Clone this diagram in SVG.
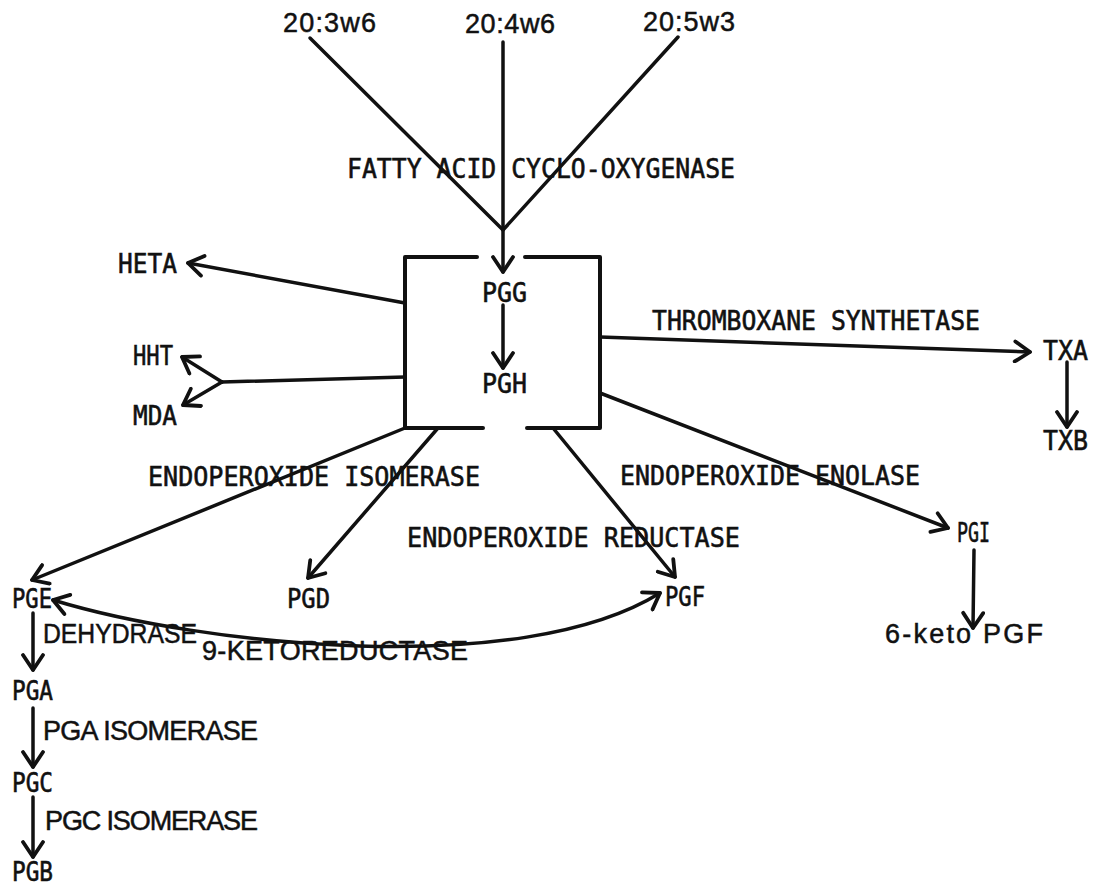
<svg xmlns="http://www.w3.org/2000/svg" width="1095" height="888" viewBox="0 0 1095 888">
<style>
.c{font-family:"DejaVu Sans Mono","Liberation Mono",monospace;font-size:27px;fill:#111;stroke:#111;stroke-width:0.6}
.h{font-family:"Liberation Sans",Arial,sans-serif;font-size:27px;fill:#111;stroke:#111;stroke-width:0.5}
.ln{fill:none;stroke:#111;stroke-width:3.5;stroke-linecap:round;stroke-linejoin:round}
.ar{marker-end:url(#arr)}
</style>
<defs>
<marker id="arr" viewBox="0 0 24 24" markerWidth="24" markerHeight="24" refX="20" refY="12" orient="auto-start-reverse" markerUnits="userSpaceOnUse">
<path d="M5,2 L20,12 L5,22" fill="none" stroke="#111" stroke-width="3.8" stroke-linecap="round" stroke-linejoin="round"/>
</marker>
</defs>
<rect width="1095" height="888" fill="#fff"/>

<g id="connectors">
<path class="ln" d="M310,38 L503,230"/>
<path class="ln" d="M678,37 L503,230"/>
<path class="ln ar" d="M503,42 L503,272"/>
<path class="ln ar" d="M503,305 L503,368"/>
<path class="ln ar" d="M405,303 L188,263"/>
<path class="ln" d="M405,377 L222,382"/>
<path class="ln ar" d="M222,382 L182,357"/>
<path class="ln ar" d="M222,382 L183,405"/>
<path class="ln ar" d="M600,337 L1030,352"/>
<path class="ln ar" d="M1067,362 L1067,427"/>
<path class="ln ar" d="M600,393 L948,528"/>
<path class="ln ar" d="M974,550 L973,628"/>
<path class="ln ar" d="M405,428 L32,580"/>
<path class="ln ar" d="M438,428 L308,578"/>
<path class="ln ar" d="M553,428 L675,577"/>
<path class="ln ar" style="marker-start:url(#arr)" d="M53,600 C200,645 520,680 660,593"/>
<path class="ln ar" d="M33,613 L33,670"/>
<path class="ln ar" d="M33,708 L33,767"/>
<path class="ln ar" d="M33,797 L33,857"/>
</g>

<g id="box">
<path class="ln" style="stroke-width:4" d="M477,257 H405 V428 H483 M527,428 H600 V257 H525"/>
</g>

<g id="n-203w6"><text class="h" x="283" y="32" textLength="93" lengthAdjust="spacing">20:3w6</text></g>
<g id="n-204w6"><text class="h" x="465" y="33" textLength="90" lengthAdjust="spacing">20:4w6</text></g>
<g id="n-205w3"><text class="h" x="643" y="31" textLength="92" lengthAdjust="spacing">20:5w3</text></g>
<g id="n-PGG"><text class="c" x="482" y="302" textLength="45" lengthAdjust="spacingAndGlyphs">PGG</text></g>
<g id="n-PGH"><text class="c" x="482" y="393" textLength="45" lengthAdjust="spacingAndGlyphs">PGH</text></g>
<g id="n-HETA"><text class="c" x="118" y="273" textLength="59" lengthAdjust="spacingAndGlyphs">HETA</text></g>
<g id="n-HHT"><text class="c" x="133" y="365" textLength="40" lengthAdjust="spacingAndGlyphs">HHT</text></g>
<g id="n-MDA"><text class="c" x="133" y="425" textLength="44" lengthAdjust="spacingAndGlyphs">MDA</text></g>
<g id="n-TXA"><text class="c" x="1043" y="360" textLength="45" lengthAdjust="spacingAndGlyphs">TXA</text></g>
<g id="n-TXB"><text class="c" x="1043" y="450" textLength="45" lengthAdjust="spacingAndGlyphs">TXB</text></g>
<g id="n-PGI"><text class="c" x="957" y="542" textLength="33" lengthAdjust="spacingAndGlyphs">PGI</text></g>
<g id="n-6ketoPGF"><text class="h" x="885" y="643" textLength="158" lengthAdjust="spacing">6-keto PGF</text></g>
<g id="n-PGE"><text class="c" x="12" y="608" textLength="40" lengthAdjust="spacingAndGlyphs">PGE</text></g>
<g id="n-PGD"><text class="c" x="287" y="608" textLength="43" lengthAdjust="spacingAndGlyphs">PGD</text></g>
<g id="n-PGF"><text class="c" x="665" y="606" textLength="40" lengthAdjust="spacingAndGlyphs">PGF</text></g>
<g id="n-PGA"><text class="c" x="12" y="700" textLength="41" lengthAdjust="spacingAndGlyphs">PGA</text></g>
<g id="n-PGC"><text class="c" x="12" y="792" textLength="41" lengthAdjust="spacingAndGlyphs">PGC</text></g>
<g id="n-PGB"><text class="c" x="12" y="881" textLength="41" lengthAdjust="spacingAndGlyphs">PGB</text></g>

<g id="labels">
<text class="c" x="347" y="178" textLength="388" lengthAdjust="spacingAndGlyphs">FATTY ACID CYCLO-OXYGENASE</text>
<text class="c" x="652" y="330" textLength="328" lengthAdjust="spacingAndGlyphs">THROMBOXANE SYNTHETASE</text>
<text class="c" x="148" y="486" textLength="332" lengthAdjust="spacingAndGlyphs">ENDOPEROXIDE ISOMERASE</text>
<text class="c" x="620" y="485" textLength="300" lengthAdjust="spacingAndGlyphs">ENDOPEROXIDE ENOLASE</text>
<text class="c" x="407" y="547" textLength="333" lengthAdjust="spacingAndGlyphs">ENDOPEROXIDE REDUCTASE</text>
<text class="h" x="43" y="643" textLength="154" lengthAdjust="spacingAndGlyphs">DEHYDRASE</text>
<text class="h" x="202" y="660" textLength="266" lengthAdjust="spacing">9-KETOREDUCTASE</text>
<text class="h" x="43" y="740" textLength="215" lengthAdjust="spacing">PGA ISOMERASE</text>
<text class="h" x="45" y="830" textLength="213" lengthAdjust="spacing">PGC ISOMERASE</text>
</g>
</svg>
